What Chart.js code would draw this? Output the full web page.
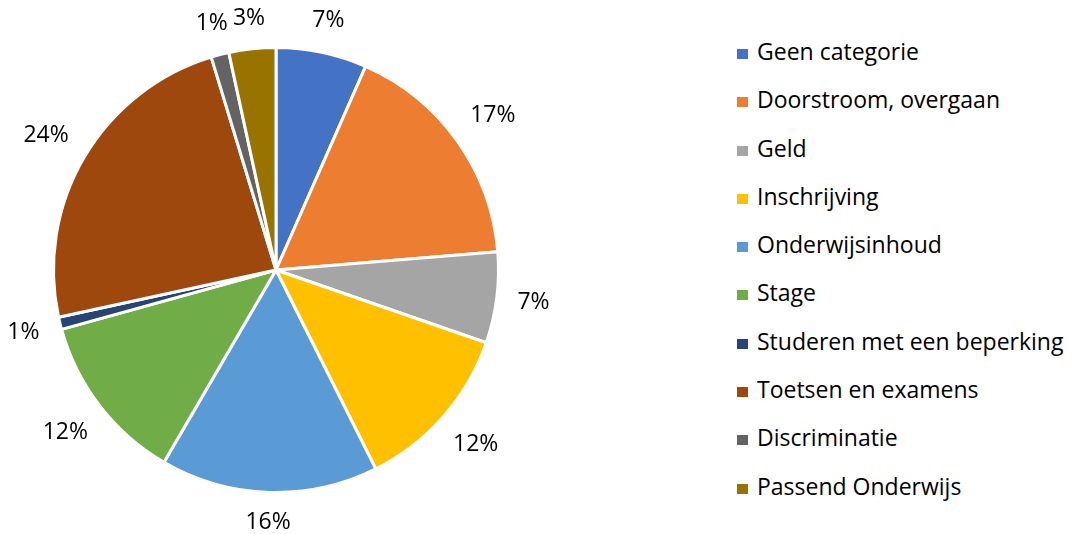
<!DOCTYPE html>
<html>
<head>
<meta charset="utf-8">
<script src="https://cdn.jsdelivr.net/npm/chart.js@4"></script>
<style>
  body { margin: 0; background: #fff; }
  #wrap { position: relative; width: 1079px; height: 534px; }
  #pie-box { position: absolute; left: 0; top: 0; width: 552px; height: 534px; }
  #legenda { position: absolute; left: 737px; top: 27px; margin: 0; padding: 0; list-style: none;
             font-family: "Open Sans", Lato, sans-serif; font-size: 23px; color: #000; }
  #legenda li { height: 48.3px; line-height: 48.3px; white-space: nowrap; }
  #legenda span { display: inline-block; width: 11px; height: 10px; margin-right: 9px; vertical-align: 1px; }
</style>
</head>
<body>
<div id="wrap">
  <div id="pie-box"><canvas id="pieChart"></canvas></div>
  <ul id="legenda"></ul>
</div>
<script>
// categorieen en aandelen (in %)
const categorieen = ['Geen categorie', 'Doorstroom, overgaan', 'Geld', 'Inschrijving', 'Onderwijsinhoud',
    'Stage', 'Studeren met een beperking', 'Toetsen en examens', 'Discriminatie', 'Passend Onderwijs'];
const aandelen = [6.6, 17.1, 6.6, 12.3, 15.8, 12.3, 0.9, 23.7, 1.3, 3.4];
const kleuren = ['#4472C4', '#ED7D31', '#A5A5A5', '#FFC000', '#5B9BD5',
    '#70AD47', '#264478', '#9E480E', '#636363', '#997300'];

const FONT = '"Open Sans", Lato, sans-serif';

// legenda als gewone tekst
const ul = document.getElementById('legenda');
categorieen.forEach((c, i) => {
    const li = document.createElement('li');
    li.innerHTML = '<span style="background:' + kleuren[i] + '"></span>' + c;
    ul.appendChild(li);
});

// percentages buiten de taartpunten
const labelsBuiten = {
    id: 'labelsBuiten',
    afterDatasetsDraw(chart) {
        const ctx = chart.ctx;
        const meta = chart.getDatasetMeta(0);
        const totaal = aandelen.reduce((a, b) => a + b, 0);
        ctx.save();
        ctx.font = '23px ' + FONT;
        ctx.fillStyle = '#000';
        ctx.textAlign = 'center';
        ctx.textBaseline = 'middle';
        meta.data.forEach((arc, i) => {
            const p = arc.getProps(['x', 'y', 'startAngle', 'endAngle', 'outerRadius'], true);
            const hoek = (p.startAngle + p.endAngle) / 2;
            const tekst = Math.round(aandelen[i] / totaal * 100) + '%';
            const hw = ctx.measureText(tekst).width / 2;
            const hh = 9;
            const afstand = p.outerRadius + 20 + hw * Math.abs(Math.cos(hoek)) + hh * Math.abs(Math.sin(hoek));
            ctx.fillText(tekst, p.x + Math.cos(hoek) * afstand, p.y + Math.sin(hoek) * afstand);
        });
        ctx.restore();
    }
};

new Chart(document.getElementById('pieChart'), {
    type: 'pie',
    data: {
        labels: categorieen,
        datasets: [{
            data: aandelen,
            backgroundColor: kleuren,
            borderColor: '#fff',
            borderWidth: 3
        }]
    },
    options: {
        responsive: true,
        maintainAspectRatio: false,
        animation: false,
        layout: { padding: { top: 46, bottom: 40, left: 0, right: 0 } },
        plugins: {
            legend: { display: false },
            tooltip: { enabled: false }
        }
    },
    plugins: [labelsBuiten]
});
</script>
</body>
</html>
